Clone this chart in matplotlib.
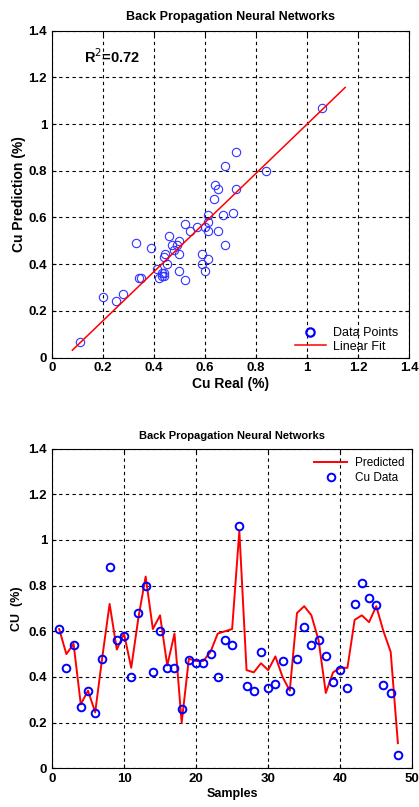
import matplotlib
matplotlib.use("Agg")
import matplotlib.pyplot as plt
from matplotlib.ticker import MultipleLocator, FuncFormatter
import numpy as np

plt.rcParams['font.family'] = ['Liberation Sans', 'DejaVu Sans']

# scatter: real vs predicted Cu
cu_real = [0.11, 0.20, 0.25, 0.28, 0.33, 0.34, 0.35, 0.39, 0.41, 0.42, 0.43, 0.43,
           0.44, 0.44, 0.44, 0.445, 0.45, 0.46, 0.47, 0.48, 0.49, 0.50, 0.50, 0.50,
           0.52, 0.52, 0.54, 0.57, 0.59, 0.59, 0.60, 0.60, 0.61, 0.61, 0.61, 0.61,
           0.635, 0.64, 0.65, 0.65, 0.67, 0.68, 0.71, 0.72, 0.72, 0.68, 0.84, 1.06]
cu_pred = [0.065, 0.26, 0.24, 0.27, 0.49, 0.34, 0.34, 0.47, 0.38, 0.34, 0.36, 0.35,
           0.35, 0.36, 0.43, 0.445, 0.40, 0.52, 0.48, 0.46, 0.48, 0.445, 0.50, 0.37,
           0.33, 0.57, 0.54, 0.56, 0.445, 0.40, 0.37, 0.56, 0.61, 0.58, 0.54, 0.42,
           0.68, 0.74, 0.72, 0.54, 0.61, 0.48, 0.62, 0.72, 0.88, 0.82, 0.80, 1.07]
fit_slope = 1.052
fit_intercept = -0.053
fit_xrange = [0.08, 1.15]
r2_text = r'R$^{2}$=0.72'

# samples series
samples = list(range(1, 49))
cu_data = [0.61, 0.44, 0.54, 0.27, 0.34, 0.24, 0.48, 0.88, 0.56, 0.58, 0.40, 0.68,
           0.80, 0.42, 0.60, 0.44, 0.44, 0.26, 0.475, 0.46, 0.46, 0.50, 0.40, 0.56,
           0.54, 1.06, 0.36, 0.34, 0.51, 0.35, 0.37, 0.47, 0.34, 0.48, 0.62, 0.54,
           0.56, 0.49, 0.38, 0.43, 0.35, 0.72, 0.81, 0.745, 0.715, 0.365, 0.33, 0.06]
predicted = [0.61, 0.50, 0.545, 0.28, 0.34, 0.245, 0.49, 0.72, 0.52, 0.59, 0.44, 0.66,
             0.84, 0.61, 0.67, 0.45, 0.59, 0.20, 0.48, 0.47, 0.47, 0.51, 0.59, 0.60,
             0.61, 1.04, 0.43, 0.42, 0.46, 0.43, 0.49, 0.40, 0.34, 0.68, 0.71, 0.67,
             0.56, 0.33, 0.42, 0.44, 0.44, 0.65, 0.67, 0.64, 0.71, 0.60, 0.51, 0.11]

fig = plt.figure(figsize=(4.19, 8.07), dpi=100)
ax1 = fig.add_axes([0.124, 0.557, 0.852, 0.405])
ax2 = fig.add_axes([0.124, 0.048, 0.860, 0.396])

fmt = FuncFormatter(lambda v, p: '%g' % round(v, 2))

def style(ax):
    ax.grid(True, color='black', linestyle=(0, (3, 3)), linewidth=0.8)
    ax.set_axisbelow(True)
    ax.tick_params(direction='in', length=3, labelsize=9.5, width=0.8,
                   top=True, right=True)
    for lab in ax.get_xticklabels() + ax.get_yticklabels():
        lab.set_fontweight('bold')
    for s in ax.spines.values():
        s.set_linewidth(0.8)

# top panel
ax1.plot(cu_real, cu_pred, 'o', mfc='none', mec='#3333ff', ms=6, mew=0.8,
         label='Data Points')
xf = np.array(fit_xrange)
ax1.plot(xf, fit_slope * xf + fit_intercept, color='red', lw=1.1,
         label='Linear Fit')
ax1.set_xlim(0, 1.4)
ax1.set_ylim(0, 1.4)
ax1.xaxis.set_major_locator(MultipleLocator(0.2))
ax1.yaxis.set_major_locator(MultipleLocator(0.2))
ax1.xaxis.set_major_formatter(fmt)
ax1.yaxis.set_major_formatter(fmt)
style(ax1)
ax1.text(0.125, 1.26, r2_text, fontsize=10.5, fontweight='bold')
ax1.set_title('Back Propagation Neural Networks', fontsize=9, fontweight='bold', pad=8)
ax1.set_xlabel('Cu Real (%)', fontsize=10, fontweight='bold', labelpad=2)
ax1.set_ylabel('Cu Prediction (%)', fontsize=10, fontweight='bold', labelpad=2)
leg1 = ax1.legend(loc='lower right', frameon=False, fontsize=9, handlelength=2.5,
                  borderaxespad=0.0, handletextpad=0.6, labelspacing=0.1,
                  bbox_to_anchor=(0.985, 0.0))
leg1.legend_handles[0].set_markeredgewidth(1.6)
leg1.legend_handles[0].set_markeredgecolor('blue')

# bottom panel
ax2.plot(samples, predicted, color='red', lw=1.4, label='Predicted')
ax2.plot(samples, cu_data, 'o', mfc='none', mec='blue', ms=5.5, mew=1.4,
         label='Cu Data')
ax2.set_xlim(0, 50)
ax2.set_ylim(0, 1.4)
ax2.xaxis.set_major_locator(MultipleLocator(10))
ax2.yaxis.set_major_locator(MultipleLocator(0.2))
ax2.xaxis.set_major_formatter(fmt)
ax2.yaxis.set_major_formatter(fmt)
style(ax2)
ax2.set_title('Back Propagation Neural Networks', fontsize=8, fontweight='bold', pad=7)
ax2.set_xlabel('Samples', fontsize=9, fontweight='bold', labelpad=2)
ax2.set_ylabel('CU  (%)', fontsize=9, fontweight='bold', labelpad=4)
ax2.legend(loc='upper right', frameon=False, fontsize=8.5, handlelength=2.8,
           borderaxespad=0.3, handletextpad=0.6, labelspacing=0.3)

fig.savefig('out.png', dpi=100)
